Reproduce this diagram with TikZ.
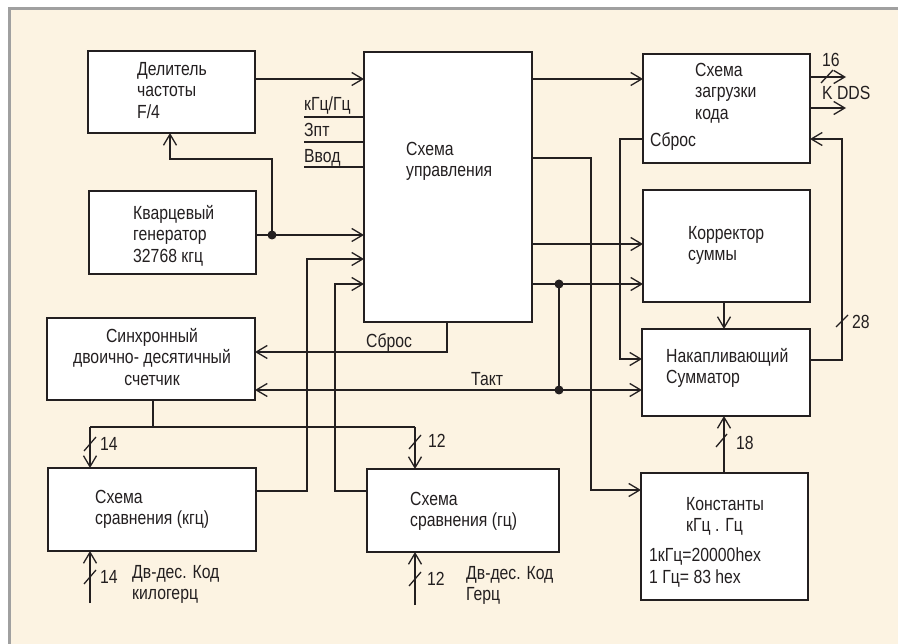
\documentclass[tikz,border=0pt]{standalone}
\usepackage{fontspec}
\setmainfont[FakeStretch=0.83]{Liberation Sans}
\usetikzlibrary{arrows.meta}
\definecolor{bg}{HTML}{FCF3E2}
\definecolor{frm}{HTML}{A0A0A0}
\definecolor{ink}{HTML}{231F20}
\begin{document}
\begin{tikzpicture}[x=1pt,y=-1pt,
  box/.style={draw=ink, line width=2.6pt, fill=white, inner sep=0, outer sep=0},
  wire/.style={draw=ink, line width=1.3pt},
  arr/.style={wire, -{Straight Barb[length=11pt,width=13pt,line width=1.3pt]}},
  txt/.style={font=\fontsize{19}{21.5}\selectfont, text=ink, inner sep=0, anchor=north west, align=left},
  dot/.style={circle, fill=ink, minimum size=9pt, inner sep=0},
]
\useasboundingbox (0,0) rectangle (898,644);
\fill[bg] (9,9) rectangle (898,644);
\draw[frm, line width=3pt] (9,644) -- (9,9) -- (898,9);

% boxes
\node[box, minimum width=167, minimum height=82] (div) at (171.5,92) {};
\node[box, minimum width=168, minimum height=270] (ctrl) at (448,187) {};
\node[box, minimum width=167, minimum height=83] (osc) at (172.5,232.5) {};
\node[box, minimum width=208, minimum height=82] (cnt) at (151,359) {};
\node[box, minimum width=208, minimum height=83] (cmpk) at (152,509.5) {};
\node[box, minimum width=192, minimum height=83] (cmph) at (463,510.5) {};
\node[box, minimum width=167, minimum height=109] (load) at (726.5,108.5) {};
\node[box, minimum width=167, minimum height=112] (corr) at (726.5,246) {};
\node[box, minimum width=168, minimum height=87] (acc) at (726,372.5) {};
\node[box, minimum width=167, minimum height=127] (const) at (724.5,536.5) {};

% box texts
\node[txt] (tdiv) at (137,62) {Делитель\\частоты\\F/4};
\node[txt] (tctrl) at (406,142) {Схема\\управления};
\node[txt] (tosc) at (133,205) {Кварцевый\\генератор\\32768 кгц};
\node[txt, anchor=north, align=center] (tcnt) at (152,328) {Синхронный\\двоично- десятичный\\счетчик};
\node[txt] (tcmpk) at (95,490) {Схема\\сравнения (кгц)};
\node[txt] (tcmph) at (410,492) {Схема\\сравнения (гц)};
\node[txt] (tload) at (695,63) {Схема\\загрузки\\кода};
\node[txt] (tloadr) at (650,132) {Сброс};
\node[txt] (tcorr) at (688,226) {Корректор\\суммы};
\node[txt] (tacc) at (666,348) {Накапливающий\\Сумматор};
\node[txt] (tconst) at (686,497) {Константы\\кГц . Гц};
\node[txt] (tconst2) at (649,548) {1кГц=20000hex\\1 Гц= 83 hex};

% control inputs
\coordinate (kg) at (304,117);
\coordinate (zp) at (304,142);
\coordinate (vv) at (304,167);
\draw[wire] (kg) -- (ctrl.west |- kg);
\draw[wire] (zp) -- (ctrl.west |- zp);
\draw[wire] (vv) -- (ctrl.west |- vv);
\node[txt] (lkg) at (304,97) {кГц/Гц};
\node[txt] (lzp) at (304,123) {Зпт};
\node[txt] (lvv) at (304,149) {Ввод};

% connectors
\draw[arr] (div.east |- 0,79) -- (ctrl.west |- 0,79);
\node[dot] (d1) at (272,235) {};
\draw[wire] (osc.east |- d1) -- (d1.center);
\draw[arr] (d1.center) -- (ctrl.west |- d1);
\draw[arr] (d1.center) |- (170,159) -- (div.south -| 170,0);
\draw[arr] (cmpk.east |- 0,491) -| (307,259) -- (ctrl.west |- 0,259);
\draw[arr] (cmph.west |- 0,491) -| (335,284) -- (ctrl.west |- 0,284);
\draw[arr] (ctrl.south -| 447,0) |- (cnt.east |- 0,352);
\node[txt] (lsbros) at (366,333) {Сброс};
\draw[arr] (ctrl.east |- 0,79) -- (load.west |- 0,79);
\draw[arr] (ctrl.east |- 0,158) -| (591,490) -- (const.west |- 0,490);
\draw[arr] (ctrl.east |- 0,244) -- (corr.west |- 0,244);
\node[dot] (d2) at (559,284) {};
\node[dot] (d3) at (559,390) {};
\draw[wire] (ctrl.east |- d2) -- (d2.center);
\draw[arr] (d2.center) -- (corr.west |- d2);
\draw[wire] (d2.center) -- (d3.center);
\draw[arr] (d3.center) -- (cnt.east |- d3);
\draw[arr] (d3.center) -- (acc.west |- d3);
\node[txt] (ltakt) at (471,372) {Такт};
\draw[arr] (load.west |- 0,139) -| (620,359) -- (acc.west |- 0,359);
\draw[arr] (corr.south -| 724,0) -- (acc.north -| 724,0);
\draw[arr] (const.north -| 724,0) -- (acc.south -| 724,0);
\draw[wire] (716,447) -- (727,434);
\node[txt] (l18) at (736,436) {18};
\draw[arr] (acc.east |- 0,360) -| (842,139) -- (load.east |- 0,139);
\draw[wire] (836,327) -- (848,315);
\node[txt] (l28) at (852,315) {28};
\coordinate (o1) at (846,77);
\coordinate (o2) at (846,108);
\draw[arr] (load.east |- o1) -- (o1);
\draw[arr] (load.east |- o2) -- (o2);
\draw[wire] (821,83) -- (833,70);
\node[txt] (l16) at (822,53) {16};
\node[txt] (lkdds) at (822,86) {K DDS};

% counter bus
\coordinate (b1) at (90,427);
\coordinate (b2) at (415,427);
\draw[wire] (cnt.south -| 153,0) -- (153,427);
\draw[wire] (b1) -- (b2);
\draw[arr] (b1) -- (cmpk.north -| b1);
\draw[arr] (b2) -- (cmph.north -| b2);
\draw[wire] (84,451) -- (96,437);
\node[txt] (l14a) at (100,437) {14};
\draw[wire] (409,449) -- (421,435);
\node[txt] (l12a) at (428,434) {12};

% external inputs
\coordinate (i1) at (90,603);
\coordinate (i2) at (415,605);
\draw[arr] (i1) -- (cmpk.south -| i1);
\draw[arr] (i2) -- (cmph.south -| i2);
\draw[wire] (84,584) -- (96,570);
\node[txt] (l14b) at (100,570) {14};
\draw[wire] (409,586) -- (421,572);
\node[txt] (l12b) at (427,572) {12};
\node[txt] (tink) at (132,565) {Дв-дес. Код\\килогерц};
\node[txt] (tinh) at (466,566) {Дв-дес. Код\\Герц};
\end{tikzpicture}
\end{document}
